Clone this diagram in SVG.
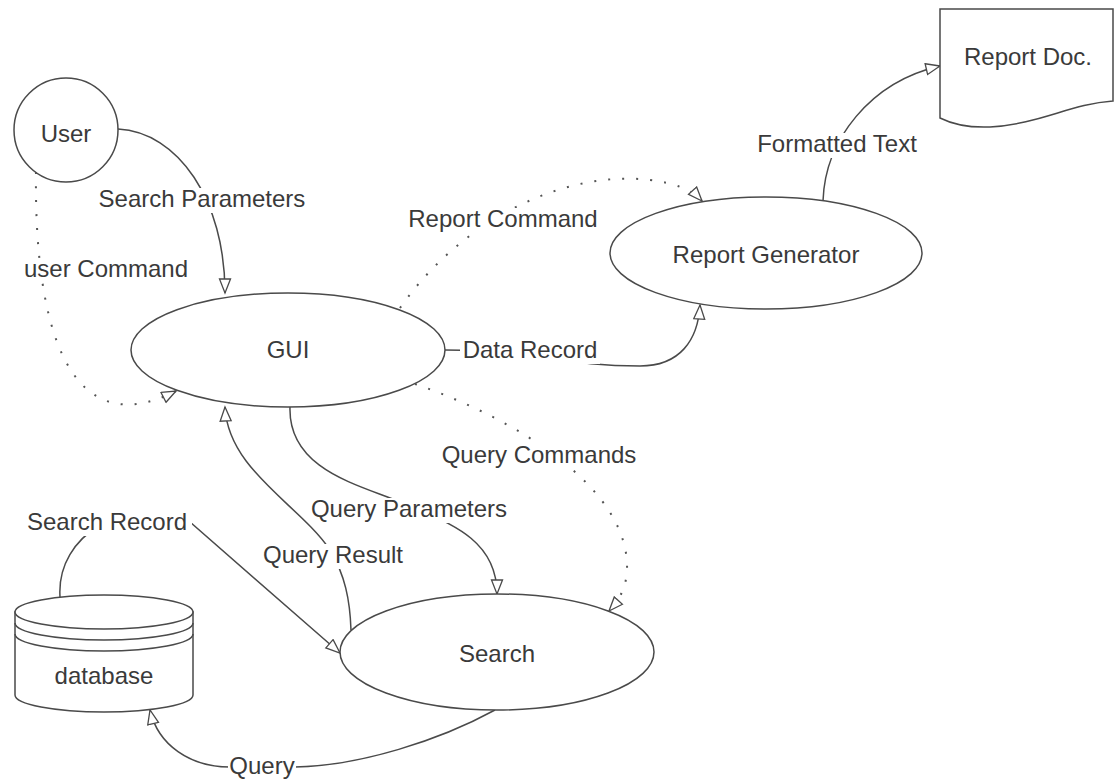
<svg xmlns="http://www.w3.org/2000/svg" width="1114" height="780" viewBox="0 0 1114 780">
<style>
.n{fill:#fff;stroke:#4a4a4a;stroke-width:1.5}
.c{fill:none;stroke:#4a4a4a;stroke-width:1.5}
.d{fill:none;stroke:#555;stroke-width:2;stroke-dasharray:2 12}
.t{font-family:"Liberation Sans",Arial,sans-serif;font-size:24px;fill:#3a3a3a;text-anchor:middle}
.bg{fill:#fff}
</style>
<defs>
<marker id="arr" markerWidth="17" markerHeight="14" refX="15" refY="6.5" orient="auto" markerUnits="userSpaceOnUse">
<path d="M1,1 L15,6.5 L1,12 Z" fill="#fff" stroke="#4a4a4a" stroke-width="1.3"/>
</marker>
</defs>
<rect width="1114" height="780" fill="#fff"/>
<g id="connectors">
<path class="c" d="M118,129 C178,132 225,200 225,293" marker-end="url(#arr)"/>
<path class="d" d="M36,172 C34,330 70,445 176,391" marker-end="url(#arr)"/>
<path class="d" d="M400,308 C465,215 570,170 650,180 C675,183 692,190 702,201" marker-end="url(#arr)"/>
<path class="c" d="M445,350 C540,350 560,366 640,366 C680,366 698,340 700,305" marker-end="url(#arr)"/>
<path class="c" d="M823,201 C825,140 870,82 940,66" marker-end="url(#arr)"/>
<path class="c" d="M290,407 C288,470 360,485 400,502 C460,525 497,545 497,594" marker-end="url(#arr)"/>
<path class="c" d="M351,630 C350,600 345,575 330,550 C300,505 228,470 225,407" marker-end="url(#arr)"/>
<path class="d" d="M415,384 C520,420 630,490 627,570 C626,590 618,601 609,611" marker-end="url(#arr)"/>
<path class="c" d="M60,597 C58,565 75,540 100,525 L190,522 L340,653" marker-end="url(#arr)"/>
<path class="c" d="M495,710 C440,740 360,766 295,767 L230,767 C190,767 158,745 150,710" marker-end="url(#arr)"/>
<g id="labels">
<rect class="bg" x="95" y="188" width="214" height="25"/>
<text class="t" x="202" y="207">Search Parameters</text>
<rect class="bg" x="20" y="258" width="172" height="25"/>
<text class="t" x="106" y="277">user Command</text>
<rect class="bg" x="405" y="208" width="197" height="25"/>
<text class="t" x="503" y="227">Report Command</text>
<rect class="bg" x="460" y="339" width="140" height="25"/>
<text class="t" x="530" y="358">Data Record</text>
<rect class="bg" x="753" y="133" width="169" height="25"/>
<text class="t" x="837" y="152">Formatted Text</text>
<rect class="bg" x="438" y="444" width="202" height="25"/>
<text class="t" x="539" y="463">Query Commands</text>
<rect class="bg" x="308" y="498" width="202" height="25"/>
<text class="t" x="409" y="517">Query Parameters</text>
<rect class="bg" x="261" y="544" width="145" height="25"/>
<text class="t" x="333" y="563">Query Result</text>
<rect class="bg" x="23" y="511" width="169" height="25"/>
<text class="t" x="107" y="530">Search Record</text>
<rect class="bg" x="228" y="755" width="68" height="25"/>
<text class="t" x="262" y="774">Query</text>
</g>
</g>
<g id="user">
<circle class="n" cx="66" cy="130" r="52"/>
<text class="t" x="66" y="142">User</text>
</g>
<g id="gui">
<ellipse class="n" cx="288" cy="350" rx="157" ry="57"/>
<text class="t" x="288" y="358">GUI</text>
</g>
<g id="report-generator">
<ellipse class="n" cx="766" cy="253" rx="156" ry="56"/>
<text class="t" x="766" y="263">Report Generator</text>
</g>
<g id="search">
<ellipse class="n" cx="497" cy="652" rx="157" ry="58"/>
<text class="t" x="497" y="662">Search</text>
</g>
<g id="report-doc">
<path class="n" d="M940,9 L1113,9 L1113,101 C1070,104 1040,124 990,127 C965,128 950,123 940,118 Z"/>
<text class="t" x="1028" y="65">Report Doc.</text>
</g>
<g id="database">
<path class="n" d="M15,612 L15,695 A89,17 0 0 0 193,695 L193,612 Z"/>
<ellipse class="n" cx="104" cy="612" rx="89" ry="17"/>
<path class="c" d="M15,623 A89,17 0 0 0 193,623"/>
<path class="c" d="M15,634 A89,17 0 0 0 193,634"/>
<text class="t" x="104" y="684">database</text>
</g>
</svg>
